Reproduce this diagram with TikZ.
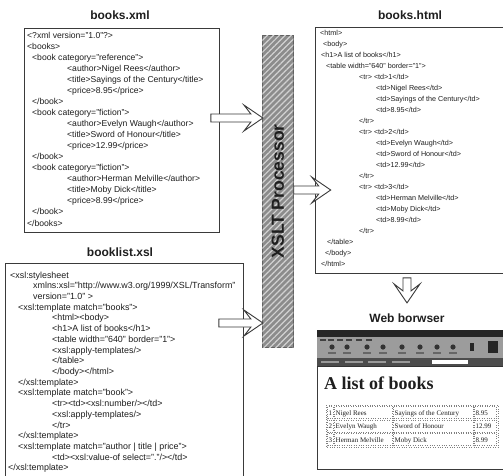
\documentclass[tikz,border=0pt]{standalone}
\usepackage{fontspec}
\setmainfont{Liberation Sans}
\newfontfamily\webserif{Liberation Serif}
\usetikzlibrary{patterns.meta}

\definecolor{ink}{HTML}{1E1E1E}
\definecolor{frame}{HTML}{3A3A3A}
\definecolor{barfill}{HTML}{8C8C8C}
\definecolor{barstripe}{HTML}{D2D2D2}
\definecolor{toolgray}{HTML}{9C9C9C}

\tikzset{
  docbox/.style={draw=frame, line width=0.9pt, fill=white, inner sep=0pt, anchor=north west},
  doctitle/.style={font=\fontsize{12}{13}\selectfont\bfseries, text=ink, inner sep=0pt},
  codeline/.style={font=\fontsize{8.6}{9}\selectfont, text=ink, inner sep=0pt, anchor=base west},
  xslline/.style={codeline, font=\fontsize{8.9}{9}\selectfont},
  htmlline/.style={font=\fontsize{7.2}{8}\selectfont, text=ink, inner sep=0pt, anchor=base west},
  cellline/.style={font=\webserif\fontsize{7}{8}\selectfont, text=ink, inner sep=0pt, anchor=base west},
  cellbox/.style={draw=gray, line width=0.4pt, dotted},
  arrowline/.style={draw=frame, line width=0.9pt, fill=white, line join=miter},
  pics/hollow arrow/.style={code={
    \filldraw[arrowline] (0,-4) -- (#1-12,-4) -- (#1-19,-13) -- (#1,0)
      -- (#1-19,13) -- (#1-12,4) -- (0,4) -- cycle;
  }},
}

\begin{document}
\begin{tikzpicture}[x=1pt,y=-1pt]
\clip (0,0) rectangle (503,475);
\fill[white] (0,0) rectangle (503,475);

% ---------- books.xml ----------
\node[doctitle] (xmltitle) at (120,15) {books.xml};
\node[docbox, minimum width=195pt, minimum height=204pt] (xml) at (24,28) {};
\foreach \dx/\t [count=\k from 0] in {
  27/{<?xml version="1.0"?>},
  27/{<books>},
  32/{<book category="reference">},
  67/{<author>Nigel Rees</author>},
  67/{<title>Sayings of the Century</title>},
  67/{<price>8.95</price>},
  32/{</book>},
  32/{<book category="fiction">},
  67/{<author>Evelyn Waugh</author>},
  67/{<title>Sword of Honour</title>},
  67/{<price>12.99</price>},
  32/{</book>},
  32/{<book category="fiction">},
  67/{<author>Herman Melville</author>},
  67/{<title>Moby Dick</title>},
  67/{<price>8.99</price>},
  32/{</book>},
  27/{</books>}}
  \node[codeline] (xmlline\k) at (\dx, 38+\k*11.06) {\t};

% ---------- booklist.xsl ----------
\node[doctitle] (xsltitle) at (120,252) {booklist.xsl};
\node[docbox, minimum width=238pt, minimum height=230pt] (xsl) at (5,263) {};
\foreach \dx/\t [count=\k from 0] in {
  10/{<xsl:stylesheet},
  33/{xmlns:xsl="http://www.w3.org/1999/XSL/Transform"},
  33/{version="1.0" >},
  18/{<xsl:template match="books">},
  52/{<html><body>},
  52/{<h1>A list of books</h1>},
  52/{<table width="640" border="1">},
  52/{<xsl:apply-templates/>},
  52/{</table>},
  52/{</body></html>},
  18/{</xsl:template>},
  18/{<xsl:template match="book">},
  52/{<tr><td><xsl:number/></td>},
  52/{<xsl:apply-templates/>},
  52/{</tr>},
  18/{</xsl:template>},
  18/{<xsl:template match="author | title | price">},
  52/{<td><xsl:value-of select="."/></td>},
  8/{</xsl:template>}}
  \node[xslline] (xslline\k) at (\dx, 278+\k*10.72) {\t};

% ---------- XSLT processor ----------
\node[draw=frame!80, line width=0.7pt, fill=barfill, inner sep=0pt, anchor=north west,
      minimum width=31pt, minimum height=312pt,
      postaction={pattern={Lines[angle=45,distance=4.2pt,line width=1.2pt]}, pattern color=barstripe}]
      (proc) at (262,35) {};
\node[rotate=90, font=\fontsize{17.5}{18}\selectfont\bfseries, text=ink] (proctext) at (proc.center) {XSLT Processor};

% ---------- books.html ----------
\node[doctitle] (htmltitle) at (410,15) {books.html};
\node[docbox, minimum width=200pt, minimum height=246pt] (html) at (315,27) {};
\foreach \dx/\t [count=\k from 0] in {
  320/{<html>},
  323/{<body>},
  321/{<h1>A list of books</h1>},
  326/{<table width="640" border="1">},
  359/{<tr> <td>1</td>},
  376/{<td>Nigel Rees</td>},
  376/{<td>Sayings of the Century</td>},
  376/{<td>8.95</td>},
  359/{</tr>},
  359/{<tr> <td>2</td>},
  376/{<td>Evelyn Waugh</td>},
  376/{<td>Sword of Honour</td>},
  376/{<td>12.99</td>},
  359/{</tr>},
  359/{<tr> <td>3</td>},
  376/{<td>Herman Melville</td>},
  376/{<td>Moby Dick</td>},
  376/{<td>8.99</td>},
  359/{</tr>},
  327/{</table>},
  325/{</body>},
  321/{</html>}}
  \node[htmlline] (htmlline\k) at (\dx, 35.5+\k*11) {\t};

% ---------- web browser ----------
\node[doctitle] (webtitle) at (407,318) {Web borwser};
\node[docbox, minimum width=195pt, minimum height=139pt] (web) at (317,330) {};
% window chrome
\fill[black!85] (web.north west) rectangle ++(195,7);
\fill[toolgray] ([yshift=-7pt]web.north west) rectangle ++(195,21);
\fill[black!70] ([yshift=-28pt]web.north west) rectangle ++(195,8);
\draw[black!80, line width=0.6pt] ([yshift=-36pt]web.north west) -- ++(195,0);
% menu marks
\foreach \mx in {320,328,337,346,356,366}
  \fill[black!75] (\mx,339) rectangle ++(6,2);
% toolbar buttons
\foreach \bx in {332,347,367,383,402,420,437,453}{
  \fill[black!80] (\bx,347) circle (2.6);
  \fill[black!60] (\bx-4,352) rectangle ++(8,2);
}
\fill[black!85] (470,343) rectangle ++(4,8);
\fill[black!85] (488,341) rectangle ++(10,12);
% address row
\fill[white] (432,360) rectangle (468,364);
\foreach \ax in {321,345,368,392}
  \fill[black!40] (\ax,361) rectangle ++(18,2);
\node[font=\webserif\bfseries\fontsize{18}{20}\selectfont, text=ink, inner sep=0pt, anchor=base west]
  (webhead) at (324,389) {A list of books};
% rendered table
\draw[cellbox] (326,405) rectangle (498,447);
\foreach \r/\a/\b/\c [count=\k from 0] in {
  1/{Nigel Rees}/{Sayings of the Century}/{8.95},
  2/{Evelyn Waugh}/{Sword of Honour}/{12.99},
  3/{Herman Melville}/{Moby Dick}/{8.99}}{
  \draw[cellbox] (327.5,406.5+\k*13.5) rectangle (333,418.5+\k*13.5);
  \draw[cellbox] (334.5,406.5+\k*13.5) rectangle (392,418.5+\k*13.5);
  \draw[cellbox] (393.5,406.5+\k*13.5) rectangle (473,418.5+\k*13.5);
  \draw[cellbox] (474.5,406.5+\k*13.5) rectangle (496.5,418.5+\k*13.5);
  \node[cellline] (cellA\k) at (328.5,415+\k*13.5) {\r};
  \node[cellline] (cellB\k) at (335.5,415+\k*13.5) {\a};
  \node[cellline] (cellC\k) at (394.5,415+\k*13.5) {\b};
  \node[cellline] (cellD\k) at (475.5,415+\k*13.5) {\c};
}

% ---------- connectors ----------
\coordinate (a1) at ([xshift=-9pt]xml.east |- 0,118);
\coordinate (a2) at (proc.east |- 0,190);
\coordinate (a3) at ([xshift=-25pt]xsl.east |- 0,323);
\coordinate (a4) at ([yshift=-4pt]html.south -| 407,0);
\pic at (a1) {hollow arrow=52};
\pic at (a2) {hollow arrow=37};
\pic at (a3) {hollow arrow=44};
\pic[rotate=-90] at (a4) {hollow arrow=25};
\end{tikzpicture}
\end{document}
